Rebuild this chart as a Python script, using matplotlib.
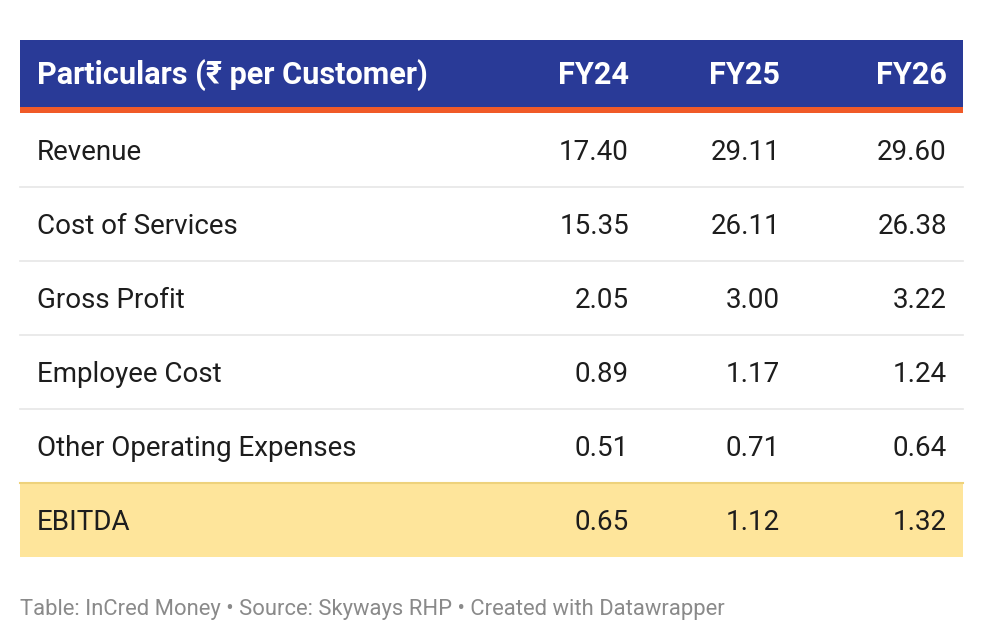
from matplotlib import pyplot as plt
from matplotlib.patches import Rectangle

plt.rcParams['font.family'] = ['Roboto', 'DejaVu Sans']

header = 'Particulars (₹ per Customer)'
years = ['FY24', 'FY25', 'FY26']
rows = [
    'Revenue',
    'Cost of Services',
    'Gross Profit',
    'Employee Cost',
    'Other Operating Expenses',
    'EBITDA',
]
fy24 = [17.40, 15.35, 2.05, 0.89, 0.51, 0.65]
fy25 = [29.11, 26.11, 3.00, 1.17, 0.71, 1.12]
fy26 = [29.60, 26.38, 3.22, 1.24, 0.64, 1.32]
footer = 'Table: InCred Money \u2022 Source: Skyways RHP \u2022 Created with Datawrapper'

W, H = 984, 642
left, right = 20, 963
head_top, head_bot = 40, 107
row_h = 74
col_right = [629, 780, 947]

fig = plt.figure(figsize=(W / 100, H / 100), dpi=100)
ax = fig.add_axes([0, 0, 1, 1])
ax.set_xlim(0, W)
ax.set_ylim(H, 0)
ax.axis('off')

# header band
ax.add_patch(Rectangle((left, head_top), right - left, head_bot - head_top,
                       color='#293a97', lw=0))
ax.add_patch(Rectangle((left, head_bot), right - left, 6, color='#f05a28', lw=0))
hy = (head_top + head_bot) / 2 + 2
ax.text(37, hy, header, color='white', fontsize=22.1, fontweight='bold',
        va='center', ha='left')
for x, y in zip(col_right, years):
    ax.text(x, hy, y, color='white', fontsize=22.1, fontweight='bold',
            va='center', ha='right')

top = head_bot + 6
for i, name in enumerate(rows):
    y0 = top + i * row_h
    if name == 'EBITDA':
        ax.add_patch(Rectangle((left, y0), right - left, row_h,
                               color='#fee59b', lw=0))
        ax.plot([left, right], [y0, y0], color='#eed27c', lw=1.5)
    elif i > 0:
        ax.plot([left, right], [y0, y0], color='#e6e6e6', lw=1.2)
    yc = y0 + row_h / 2 + 3
    ax.text(37, yc, name, color='#1d1d1d', fontsize=20, va='center', ha='left')
    vals = [fy24[i], fy25[i], fy26[i]]
    for x, v in zip(col_right, vals):
        ax.text(x, yc, '{:.2f}'.format(v), color='#1d1d1d', fontsize=20,
                va='center', ha='right')

ax.text(20, 610, footer, color='#8a8a8a', fontsize=15.8, va='center', ha='left')

fig.savefig('out.png', dpi=100, facecolor='white')
